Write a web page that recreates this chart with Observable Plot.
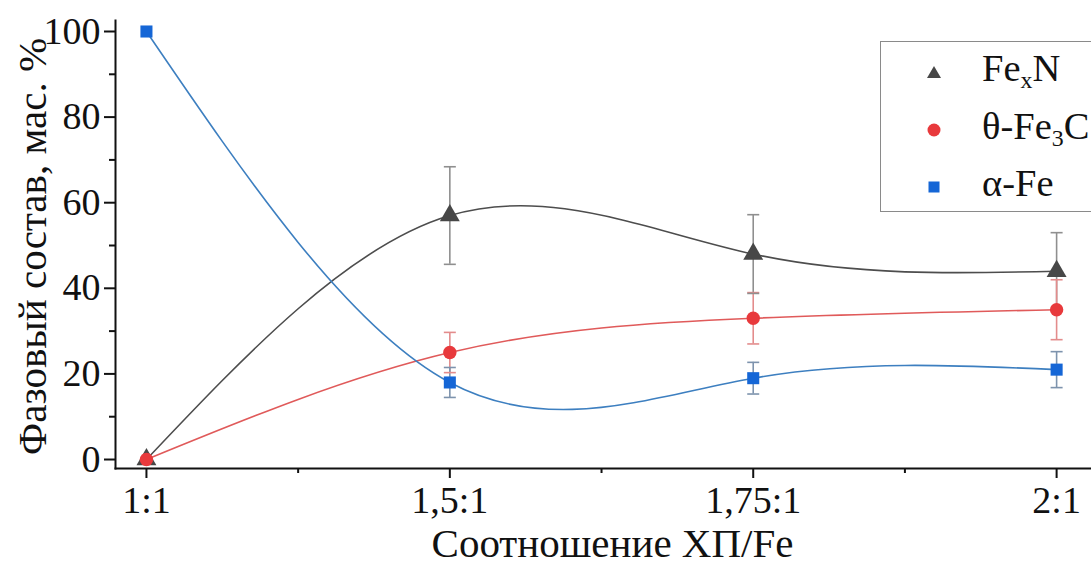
<!DOCTYPE html>
<html>
<head>
<meta charset="utf-8">
<script src="https://cdn.jsdelivr.net/npm/d3@7"></script>
<script src="https://cdn.jsdelivr.net/npm/@observablehq/plot@0.6"></script>
<style>
  html, body { margin: 0; padding: 0; background: #fff; overflow: hidden; }
  #wrap { position: relative; width: 1091px; height: 568px; overflow: hidden; }
  #legend { position: absolute; left: 880px; top: 41px; width: 260px; height: 171px;
    border: 1.5px solid #8a8a8a; background: #fff; box-sizing: border-box; color: #111; }
  .row { position: absolute; left: 0; height: 50px; display: flex; align-items: center; }
  .row svg { position: absolute; left: 45px; }
  .row span { position: absolute; left: 101px; white-space: nowrap; line-height: 50px; top: -4px;
    font-family: "Liberation Serif", "Times New Roman", serif; font-size: 38.5px; }
  sub { font-size: 0.62em; vertical-align: -0.28em; line-height: 0; }
</style>
</head>
<body>
<div id="wrap"><div id="chart"></div><div id="legend"></div></div>
<script>
// ---- data ----
const ratios = ["1:1", "1,5:1", "1,75:1", "2:1"];
const seriesNames = ["FexN", "θ-Fe3C", "α-Fe"];
const legendLabels = ["Fe<sub>x</sub>N", "θ-Fe<sub>3</sub>C", "α-Fe"];
const fexN = [0, 57, 48, 44];
const fexNErr = [0, 11.4, 9.2, 9];
const fe3c = [0, 25, 33, 35];
const fe3cErr = [0, 4.7, 6, 7];
const alphaFe = [100, 18, 19, 21];
const alphaFeErr = [0, 3.5, 3.7, 4.2];
const yTicks = [0, 20, 40, 60, 80, 100];
const yMinorTicks = [10, 30, 50, 70, 90];
const xTicks = [0, 1, 2, 3];
const xMinorTicks = [0.5, 1.5, 2.5];
const yTitle = "Фазовый состав, мас. %";
const xTitle = "Соотношение ХП/Fe";

// ---- styles ----
const lineColors = ["#4d4d4d", "#e05a5a", "#3d7fc0"];
const markColors = ["#474747", "#e8393c", "#1566d6"];
const errColors = ["#8f8f8f", "#e38c8c", "#7d93ad"];
const symbols = ["triangle", "circle", "square"];
const symbolR = [7.4, 6.7, 6.8];

const values = [fexN, fe3c, alphaFe];
const errs = [fexNErr, fe3cErr, alphaFeErr];
const rows = seriesNames.flatMap((s, k) =>
  ratios.map((r, i) => ({ series: s, k, x: i, y: values[k][i], err: errs[k][i] })));
const errRows = rows.filter(d => d.err > 0);

const capSymbol = { draw(ctx, size) { const r = Math.sqrt(size / Math.PI); ctx.moveTo(-r, 0); ctx.lineTo(r, 0); } };
const font = '"Liberation Serif", "Times New Roman", serif';
const fs = 38;
const titleFs = 41;

const markerMarks = seriesNames.map((s, k) =>
  Plot.dot(rows.filter(d => d.k === k), { x: "x", y: "y", symbol: symbols[k], r: symbolR[k], fill: markColors[k], stroke: "none" }));

const chart = Plot.plot({
  width: 1091, height: 568,
  marginLeft: 115, marginRight: 0, marginTop: 20, marginBottom: 100,
  style: { fontFamily: font, fontSize: fs + "px", color: "#111", background: "#fff", overflow: "visible" },
  x: { type: "linear", domain: [-0.102, 3.115] },
  y: { domain: [-2.1, 102.57] },
  marks: [
    Plot.axisY({ ticks: yTicks, tickSize: 11, tickPadding: 4, fontSize: fs, strokeWidth: 2, label: null }),
    Plot.axisY({ ticks: yMinorTicks, tickSize: 6, text: null, strokeWidth: 2, label: null }),
    Plot.axisX({ ticks: xTicks, tickFormat: i => ratios[i], tickSize: 10, tickPadding: 8, fontSize: fs, strokeWidth: 2, label: null }),
    Plot.axisX({ ticks: xMinorTicks, tickSize: 5, text: null, strokeWidth: 2, label: null }),
    Plot.frame({ anchor: "left", stroke: "#111", strokeWidth: 2 }),
    Plot.frame({ anchor: "bottom", stroke: "#111", strokeWidth: 2 }),
    Plot.text([yTitle], { text: d => d, frameAnchor: "left", textAnchor: "middle", lineAnchor: "middle", rotate: -90, dx: -83, dy: 2, fontSize: titleFs, fill: "#111" }),
    Plot.text([xTitle], { text: d => d, frameAnchor: "bottom", textAnchor: "middle", lineAnchor: "middle", dy: 75, dx: 9, fontSize: titleFs, fill: "#111" }),
    Plot.line(rows, { x: "x", y: "y", z: "series", stroke: d => lineColors[d.k], strokeWidth: 1.6, curve: "natural" }),
    Plot.ruleX(errRows, { x: "x", y1: d => d.y - d.err, y2: d => d.y + d.err, stroke: d => errColors[d.k], strokeWidth: 1.6 }),
    Plot.dot(errRows, { x: "x", y: d => d.y + d.err, symbol: capSymbol, r: 6, stroke: d => errColors[d.k], strokeWidth: 1.6, fill: "none" }),
    Plot.dot(errRows, { x: "x", y: d => d.y - d.err, symbol: capSymbol, r: 6, stroke: d => errColors[d.k], strokeWidth: 1.6, fill: "none" }),
    ...markerMarks
  ]
});
document.getElementById("chart").appendChild(chart);

// ---- legend ----
const legend = document.getElementById("legend");
const rowCenters = [30, 88, 145];
const legendShapes = [
  '<polygon points="8,2 15,14 1,14" fill="' + markColors[0] + '"/>',
  '<circle cx="8" cy="8" r="6.5" fill="' + markColors[1] + '"/>',
  '<rect x="2.5" y="2.5" width="11" height="11" fill="' + markColors[2] + '"/>'
];
seriesNames.forEach((s, k) => {
  const row = document.createElement("div");
  row.className = "row";
  row.style.top = (rowCenters[k] - 25) + "px";
  row.innerHTML = '<svg width="16" height="16" viewBox="0 0 16 16">' + legendShapes[k] + '</svg><span>' + legendLabels[k] + '</span>';
  legend.appendChild(row);
});
</script>
</body>
</html>
